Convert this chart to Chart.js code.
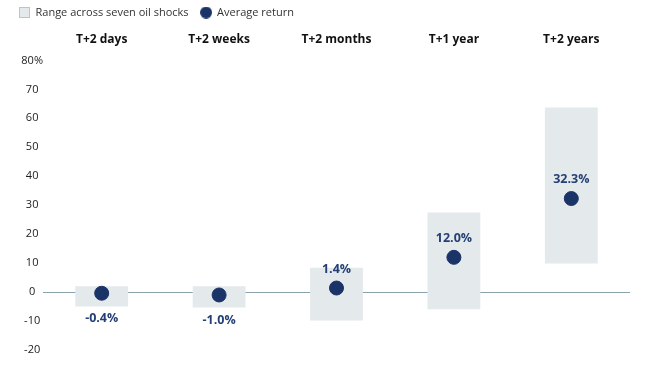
<!DOCTYPE html>
<html>
<head>
<meta charset="utf-8">
<script src="https://cdn.jsdelivr.net/npm/chart.js@4"></script>
<style>
html,body{margin:0;padding:0;background:#fff;overflow:hidden;}
#wrap{width:653px;height:370px;position:relative;}
</style>
</head>
<body>
<div id="wrap"><canvas id="c" width="653" height="370"></canvas></div>
<script>
const categories = ['T+2 days', 'T+2 weeks', 'T+2 months', 'T+1 year', 'T+2 years'];
const rangeLow = [-5.0, -5.3, -9.8, -5.9, 9.9];
const rangeHigh = [2.0, 2.0, 8.4, 27.5, 63.7];
const avgReturn = [-0.4, -1.0, 1.4, 12.0, 32.3];
const yTicks = [-20, -10, 0, 10, 20, 30, 40, 50, 60, 70, 80];

const FONT = '"Open Sans"';
const NAVY = '#1b3467';
const RANGE = '#e4e9ec';

function makeSwatch(kind) {
  const c = document.createElement('canvas');
  const s = kind === 'rect' ? 11 : 12;
  c.width = s; c.height = s;
  const g = c.getContext('2d');
  if (kind === 'rect') {
    g.fillStyle = RANGE;
    g.fillRect(0, 0, s, s);
    g.strokeStyle = '#b9c5cb';
    g.lineWidth = 1;
    g.strokeRect(0.5, 0.5, s - 1, s - 1);
  } else {
    g.fillStyle = NAVY;
    g.beginPath();
    g.arc(s / 2, s / 2, s / 2, 0, Math.PI * 2);
    g.fill();
  }
  return c;
}
const swatchRect = makeSwatch('rect');
const swatchCircle = makeSwatch('circle');

const valueLabels = {
  id: 'valueLabels',
  afterDatasetsDraw(chart) {
    const meta = chart.getDatasetMeta(1);
    const ctx = chart.ctx;
    ctx.save();
    ctx.font = 'bold 12.5px ' + FONT;
    ctx.fillStyle = '#233f74';
    ctx.textAlign = 'center';
    ctx.textBaseline = 'middle';
    meta.data.forEach((pt, i) => {
      const v = avgReturn[i];
      const y = v >= 0 ? pt.y - 19 : pt.y + 25;
      ctx.fillText(v.toFixed(1) + '%', pt.x, y);
    });
    ctx.restore();
  }
};

new Chart(document.getElementById('c'), {
  data: {
    labels: categories,
    datasets: [
      {
        type: 'bar',
        label: 'Range across seven oil shocks',
        data: rangeLow.map((lo, i) => [lo, rangeHigh[i]]),
        backgroundColor: RANGE,
        borderWidth: 0,
        barPercentage: 0.45,
        categoryPercentage: 1,
        order: 2
      },
      {
        type: 'line',
        label: 'Average return',
        data: avgReturn,
        showLine: false,
        pointRadius: 7,
        pointHoverRadius: 7,
        pointBackgroundColor: NAVY,
        pointBorderColor: NAVY,
        backgroundColor: NAVY,
        borderColor: NAVY,
        pointStyle: 'circle',
        order: 1
      }
    ]
  },
  options: {
    responsive: false,
    animation: false,
    devicePixelRatio: 1,
    layout: { padding: { left: 7, right: 23, top: -5, bottom: 20 } },
    plugins: {
      tooltip: { enabled: false },
      legend: {
        position: 'top',
        align: 'start',
        labels: {
          usePointStyle: true,
          boxWidth: 11,
          boxHeight: 11,
          padding: 12,
          color: '#333',
          font: { family: FONT, size: 11 },
          generateLabels(chart) {
            return [
              { text: 'Range across seven oil shocks', pointStyle: swatchRect, datasetIndex: 0, hidden: false, fontColor: '#333', lineWidth: 0 },
              { text: 'Average return', pointStyle: swatchCircle, datasetIndex: 1, hidden: false, fontColor: '#333', lineWidth: 0 }
            ];
          }
        }
      }
    },
    scales: {
      x: {
        position: 'top',
        grid: { display: false },
        border: { display: false },
        afterFit(scale) { scale.height -= 2; },
        ticks: { color: '#111', padding: 6, maxRotation: 0, font: { family: FONT, size: 12, weight: 'bold' } }
      },
      y: {
        min: -20,
        max: 80,
        afterBuildTicks(scale) { scale.ticks = yTicks.map(v => ({ value: v })); },
        afterFit(scale) { scale.width = 36; },
        border: { display: false },
        grid: {
          drawTicks: false,
          color: ctx => (ctx.tick && ctx.tick.value === 0) ? '#8aa3ab' : 'rgba(0,0,0,0)',
          lineWidth: 1
        },
        ticks: {
          crossAlign: 'center',
          padding: 0,
          color: '#222',
          font: { family: FONT, size: 11 },
          callback: v => v === 80 ? '80%' : String(v)
        }
      }
    }
  },
  plugins: [valueLabels]
});
</script>
</body>
</html>
